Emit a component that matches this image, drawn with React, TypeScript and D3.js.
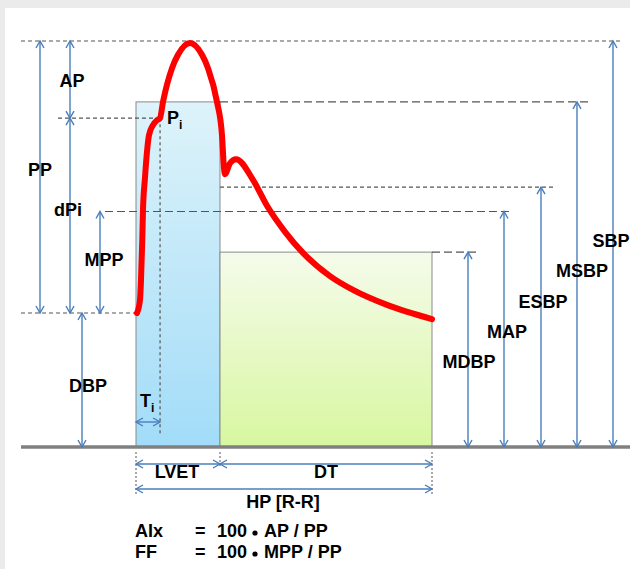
import React from 'react';
import * as d3 from 'd3';

// pressure levels (arbitrary units, 0 = baseline, 100 = SBP)
const rightLabels = ['SBP', 'MSBP', 'ESBP', 'MAP', 'MDBP'];
const rightValues = [100, 85, 64, 58, 48];
const DBP = 33;
const PI = 81;

// timing (ms)
const phaseLabels = ['LVET', 'DT'];
const phaseTimes = [0, 227, 800];
const TI = 65;

// aortic pressure waveform
const waveT = [2.7, 10.8, 13.5, 17, 18.9, 24.3, 29.7, 35.1, 45.9, 56.8, 64.9, 73, 97.3, 113.5, 145.9, 178.4, 194.6, 218.9, 232.4, 237.8, 240.5, 254, 270.3, 316.2, 354.1, 402.7, 451.4, 524.3, 586.5, 678.4, 800];
const waveP = [33, 36.2, 41.1, 51, 58.4, 66.3, 72.7, 76.8, 79.3, 80.5, 81, 85, 93.3, 96.6, 99.5, 96.6, 93.3, 85, 76.8, 68.7, 67.2, 69.9, 70.9, 65.8, 59.4, 53, 47.8, 42.1, 38.7, 35, 31.5];

const W = 630;
const H = 569;
const BASE_Y = 447;

const y = d3.scaleLinear().domain([0, 100]).range([BASE_Y, 41]);
const x = d3.scaleLinear().domain([0, 800]).range([136, 432]);

const ARROW = '#4a7ebb';
const DASH = '#555';
const FONT = 'Arial, "Liberation Sans", sans-serif';

function VArrow({ cx, y1, y2 }: { cx: number; y1: number; y2: number }) {
  const a = 7, w = 4;
  return (
    <g stroke={ARROW} strokeWidth={1.4} fill="none">
      <line x1={cx} y1={y1} x2={cx} y2={y2} />
      <polyline points={`${cx - w},${y1 + a} ${cx},${y1} ${cx + w},${y1 + a}`} />
      <polyline points={`${cx - w},${y2 - a} ${cx},${y2} ${cx + w},${y2 - a}`} />
    </g>
  );
}

function HArrow({ cy, x1, x2 }: { cy: number; x1: number; x2: number }) {
  const a = 7, w = 4;
  return (
    <g stroke={ARROW} strokeWidth={1.4} fill="none">
      <line x1={x1} y1={cy} x2={x2} y2={cy} />
      <polyline points={`${x1 + a},${cy - w} ${x1},${cy} ${x1 + a},${cy + w}`} />
      <polyline points={`${x2 - a},${cy - w} ${x2},${cy} ${x2 - a},${cy + w}`} />
    </g>
  );
}

const Label = ({ px, py, children, anchor = 'middle' }: any) => (
  <text x={px} y={py} textAnchor={anchor} fontFamily={FONT} fontWeight="bold" fontSize={18} fill="#000">
    {children}
  </text>
);

export default function App() {
  const line = d3
    .line<number>()
    .x((_, i) => x(waveT[i]))
    .y((d) => y(d))
    .curve(d3.curveMonotoneX);

  const xL = x(phaseTimes[1]);
  const xE = x(phaseTimes[2]);
  const x0 = x(phaseTimes[0]);

  // right side layout
  const rArrowX = [613, 577, 541, 504, 468];
  const rLabelX = [611, 582, 543, 507, 469];
  const rLabelY = [247, 277, 308, 338, 368];
  const rDashStart = [21, 220, 220, 105, 432];
  const rDashEnd = [623, 590, 553, 511, 480];
  const rDashPat = ['4 3', '8 4', '4 3', '8 4', '8 4'];

  return (
    <svg width={W} height={H} style={{ position: 'absolute', left: 0, top: 0 }}>
      <defs>
        <linearGradient id="blueG" x1="0" y1="0" x2="0" y2="1">
          <stop offset="0" stopColor="#def3fa" />
          <stop offset="1" stopColor="#a2dcf8" />
        </linearGradient>
        <linearGradient id="greenG" x1="0" y1="0" x2="0" y2="1">
          <stop offset="0" stopColor="#f5fbeb" />
          <stop offset="1" stopColor="#d8f7a0" />
        </linearGradient>
      </defs>
      <rect x={0} y={0} width={W} height={H} fill="#ebebeb" />
      <rect x={5} y={8} width={W - 5} height={H - 8} fill="#fff" />

      {/* ejection / diastole boxes */}
      <rect x={x0} y={y(rightValues[1])} width={xL - x0} height={BASE_Y - y(rightValues[1])} fill="url(#blueG)" stroke="#8a8a8a" strokeWidth={1} />
      <rect x={xL} y={y(rightValues[4])} width={xE - xL} height={BASE_Y - y(rightValues[4])} fill="url(#greenG)" stroke="#8a8a8a" strokeWidth={1} />

      {/* dashed reference lines */}
      {rightValues.map((v, i) => (
        <line key={rightLabels[i]} x1={rDashStart[i]} x2={rDashEnd[i]} y1={y(v)} y2={y(v)} stroke={DASH} strokeWidth={1.2} strokeDasharray={rDashPat[i]} />
      ))}
      <line x1={58} x2={x(TI)} y1={y(PI)} y2={y(PI)} stroke={DASH} strokeWidth={1.2} strokeDasharray="4 3" />
      <line x1={21} x2={x0} y1={y(DBP)} y2={y(DBP)} stroke={DASH} strokeWidth={1.2} strokeDasharray="4 3" />
      <line x1={x(TI)} x2={x(TI)} y1={y(PI)} y2={435} stroke={DASH} strokeWidth={1.2} strokeDasharray="3 3" />

      {/* baseline */}
      <line x1={21} x2={W} y1={BASE_Y} y2={BASE_Y} stroke="#808080" strokeWidth={3.5} />

      {/* bottom ticks */}
      <line x1={x0} x2={x0} y1={452} y2={495} stroke={DASH} strokeWidth={1} strokeDasharray="2 2" />
      <line x1={xL} x2={xL} y1={452} y2={468} stroke={DASH} strokeWidth={1} strokeDasharray="2 2" />
      <line x1={xE} x2={xE} y1={452} y2={495} stroke={DASH} strokeWidth={1} strokeDasharray="2 2" />

      {/* left arrows */}
      <VArrow cx={40} y1={y(100)} y2={y(DBP)} />
      <VArrow cx={70} y1={y(100)} y2={y(PI)} />
      <VArrow cx={70} y1={y(PI)} y2={y(DBP)} />
      <VArrow cx={100} y1={y(rightValues[3])} y2={y(DBP)} />
      <VArrow cx={82} y1={y(DBP)} y2={BASE_Y} />
      <HArrow cy={422} x1={x0} x2={x(TI)} />

      {/* right arrows */}
      {rightValues.map((v, i) => (
        <VArrow key={'a' + i} cx={rArrowX[i]} y1={y(v)} y2={BASE_Y} />
      ))}

      {/* time arrows */}
      <HArrow cy={464} x1={x0} x2={xL} />
      <HArrow cy={464} x1={xL} x2={xE} />
      <HArrow cy={489} x1={x0} x2={xE} />

      {/* waveform */}
      <path d={line(waveP) || ''} fill="none" stroke="#ff0000" strokeWidth={6} strokeLinecap="round" strokeLinejoin="round" />

      {/* labels */}
      <Label px={72} py={87}>AP</Label>
      <Label px={40} py={176}>PP</Label>
      <Label px={68} py={216}>dPi</Label>
      <Label px={104} py={266}>MPP</Label>
      <Label px={88} py={392}>DBP</Label>
      {rightLabels.map((l, i) => (
        <Label key={l} px={rLabelX[i]} py={rLabelY[i]}>{l}</Label>
      ))}
      <text x={167} y={124} fontFamily={FONT} fontWeight="bold" fontSize={18}>
        P<tspan fontSize={12} dy={5}>i</tspan>
      </text>
      <text x={140} y={407} fontFamily={FONT} fontWeight="bold" fontSize={18}>
        T<tspan fontSize={12} dy={5}>i</tspan>
      </text>
      <Label px={(x0 + xL) / 2 - 1} py={478}>{phaseLabels[0]}</Label>
      <Label px={(xL + xE) / 2} py={478}>{phaseLabels[1]}</Label>
      <Label px={283} py={508}>HP [R-R]</Label>

      {/* formulas */}
      <Label px={135} py={537} anchor="start">AIx</Label>
      <Label px={195} py={537} anchor="start">=</Label>
      <Label px={217} py={537} anchor="start">100</Label>
      <circle cx={255} cy={533} r={2.6} fill="#000" />
      <Label px={264} py={537} anchor="start">AP / PP</Label>
      <Label px={135} py={558} anchor="start">FF</Label>
      <Label px={195} py={558} anchor="start">=</Label>
      <Label px={217} py={558} anchor="start">100</Label>
      <circle cx={255} cy={554} r={2.6} fill="#000" />
      <Label px={264} py={558} anchor="start">MPP / PP</Label>
    </svg>
  );
}
